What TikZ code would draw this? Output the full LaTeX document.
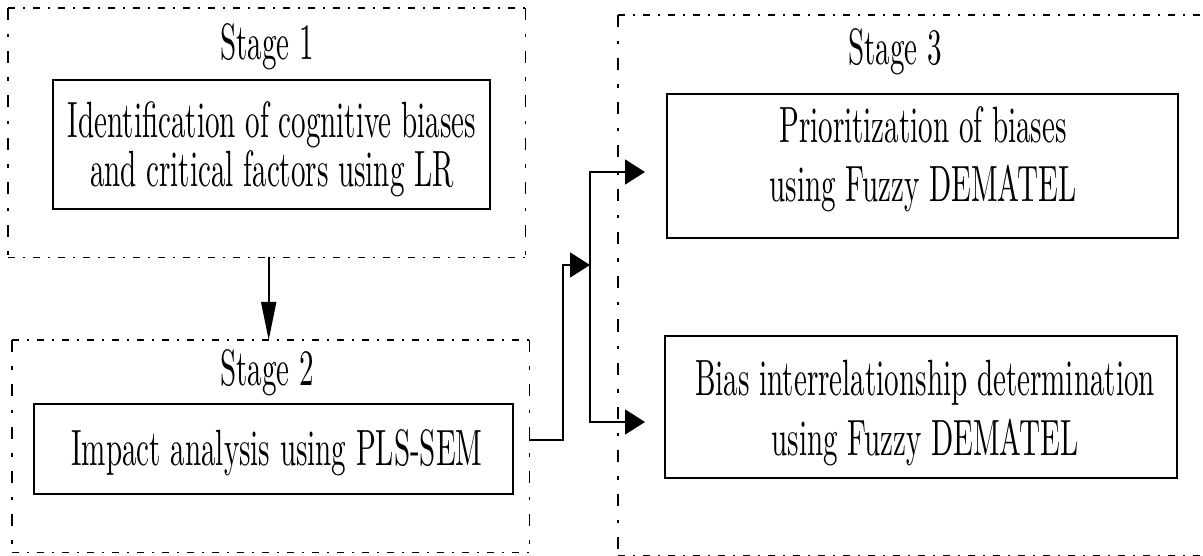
\documentclass[tikz,border=0pt]{standalone}
\usepackage{graphicx}
\usetikzlibrary{arrows.meta}

% narrow, tall lettering used throughout the chart (10pt design size, enlarged)
\font\chartfnt="[lmroman10-regular]:mapping=tex-text" at 51pt
\newcommand\lbl[1]{\scalebox{0.57}[1]{\chartfnt #1}}

\tikzset{
  txt/.style={anchor=base, inner sep=0pt, outer sep=0pt},
  stepbox/.style={draw, line width=2pt, inner sep=0pt, anchor=north west},
  frame/.style={inner sep=0pt, anchor=north west},
  hdash/.style={line width=1.5pt, dash pattern=on 7pt off 8pt on 2pt off 8pt},
  vdash/.style={line width=1.1pt, dash pattern=on 12pt off 14pt on 3.5pt off 14pt},
  link/.style={line width=1.7pt},
  harr/.style={link, -{Triangle[length=20pt, width=25pt]}},
  varr/.style={link, -{Triangle[length=38pt, width=15pt]}},
}

\newcommand\dashframe[1]{%
  \draw[hdash] (#1.north west) -- (#1.north east);
  \draw[hdash] (#1.south west) -- (#1.south east);
  \draw[vdash] (#1.north west) -- (#1.south west);
  \draw[vdash] (#1.north east) -- (#1.south east);
}

\begin{document}
\begin{tikzpicture}[x=1pt, y=-1pt]
  \clip (0,0) rectangle (1203,556);
  \fill[white] (0,0) rectangle (1203,556);

  % stage frames
  \node[frame, minimum width=517pt, minimum height=249pt] (f1) at (8,8) {};
  \node[frame, minimum width=517pt, minimum height=212pt] (f2) at (12,340) {};
  \node[frame, minimum width=600pt, minimum height=540pt] (f3) at (618,15) {};
  \dashframe{f1}
  \dashframe{f2}
  \dashframe{f3}

  % stage titles
  \node[txt] (t1) at (267,60) {\lbl{Stage 1}};
  \node[txt] (t2) at (267,385) {\lbl{Stage 2}};
  \node[txt] (t3) at (895,65) {\lbl{Stage 3}};

  % step boxes
  \node[stepbox, minimum width=437pt, minimum height=129pt] (b1) at (52,79) {};
  \node[stepbox, minimum width=479pt, minimum height=90pt] (b2) at (33,403) {};
  \node[stepbox, minimum width=511pt, minimum height=144pt] (b3) at (666,93) {};
  \node[stepbox, minimum width=512pt, minimum height=142pt] (b4) at (664,335) {};

  % step texts
  \node[txt] (b1a) at (272,138) {\lbl{Identification of cognitive biases}};
  \node[txt] (b1b) at (272,187) {\lbl{and critical factors using LR}};
  \node[txt] (b2a) at (277,465) {\lbl{Impact analysis using PLS-SEM}};
  \node[txt] (b3a) at (923,143) {\lbl{Prioritization of biases}};
  \node[txt] (b3b) at (923,202) {\lbl{using Fuzzy DEMATEL}};
  \node[txt] (b4a) at (925,395) {\lbl{Bias interrelationship determination}};
  \node[txt] (b4b) at (925,455) {\lbl{using Fuzzy DEMATEL}};

  % connectors
  \coordinate (j) at (590,265);
  \coordinate (e3) at (645,172);
  \coordinate (e4) at (645,422);
  \draw[varr] ([xshift=2pt]f1.south) -- ([xshift=2pt]f1.south |- f2.north);
  \draw[harr] ([yshift=6pt]f2.east) -| (563,265) -- (j);
  \draw[harr] (j) |- (e3);
  \draw[harr] (j) |- (e4);
\end{tikzpicture}
\end{document}
